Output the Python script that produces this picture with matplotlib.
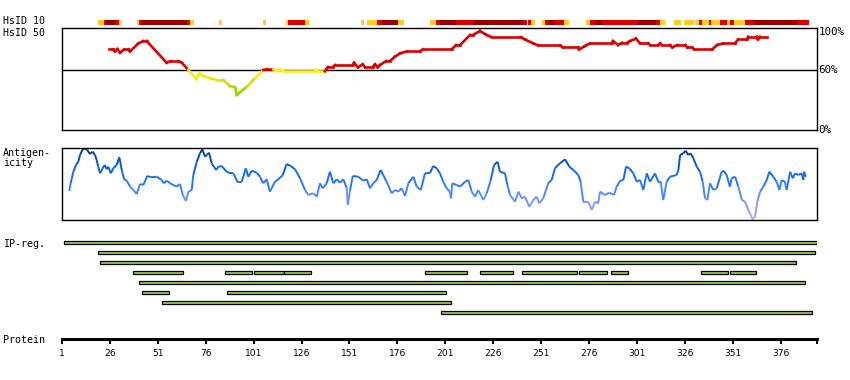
import numpy as np
import matplotlib
matplotlib.use('Agg')
import matplotlib.pyplot as plt
from matplotlib.collections import LineCollection
from matplotlib.colors import LinearSegmentedColormap, Normalize
from matplotlib.patches import Rectangle
import matplotlib.transforms as mtransforms

# ---------------- data ----------------
protein_ticks = [1, 26, 51, 76, 101, 126, 151, 176, 201, 226, 251, 276, 301, 326, 351, 376]
protein_length = 395

# HsID 10 strip: start, end, level (0 = yellow, 1 = red, 2 = dark red)
hsid10_start = [20, 23, 24, 29, 31, 40, 41, 43, 66, 68, 83, 106, 118, 119, 128, 157, 160, 165.5, 168, 176.5,
                193, 196, 198, 206.5, 216, 241.5, 244, 245.5, 251.5, 253, 255, 257.5, 263, 274.5, 276.5, 279,
                283, 301.5, 311, 313, 320.5, 325.5, 331.5, 333.5, 335, 338.5, 339.5, 344.5, 348, 349.5, 351.5,
                357.5, 361.5, 385]
hsid10_end = [23, 24, 29, 31, 32, 41, 43, 66, 68, 70, 84.5, 107.5, 119, 128, 130, 158.5, 165.5, 168, 176.5, 179.5,
              196, 198, 206.5, 216, 241.5, 243.5, 245.5, 248, 253, 255, 257.5, 263, 265.5, 276.5, 279, 283,
              301.5, 311, 313, 315.5, 324, 331, 333.5, 335, 338.5, 339.5, 344.5, 348, 349.5, 351.5, 357.5,
              361.5, 385, 391]
hsid10_level = [0, 1, 2, 1, 0, 0, 1, 2, 1, 0, 0, 0, 0, 1, 0, 0, 0, 1, 2, 0,
                0, 1, 2, 1, 2, 1, 1, 0, 0, 1, 2, 1, 0, 0, 1, 2,
                1, 2, 1, 0, 0, 0, 0, 1, 0, 1, 0, 1, 0, 1, 0,
                1, 2, 1]

# HsID 50 identity (%)
hsid50_res = [25.7, 27.8, 28.7, 29.9, 31.3, 33.4, 35.6, 36.5, 40.8, 43.4, 45.2, 55.6, 57.7, 61.7, 63.5, 66.9,
              71.3, 72.6, 74.7, 78.2, 81.7, 85.2, 88.7, 91.3, 92.2, 97.4, 101.7, 104.3, 106.0, 107.8, 111.3,
              113.0, 115.3, 116.5, 133.0, 133.5, 134.6, 138.2, 139.1, 139.8, 142.4, 143.4, 152.8, 153.4, 155.4,
              157.9, 159.1, 163.1, 164.3, 165.7, 166.9, 170.1, 172.1, 174.7, 177.4, 180.9, 187.8, 189.2, 204.3,
              206.6, 208.7, 213.9, 215.4, 219.1, 222.6, 225.2, 240.3, 242.6, 246.9, 249.4, 260.8, 262.4, 270.2,
              270.8, 273.9, 276.5, 288.0, 288.5, 291.1, 293.2, 295.8, 297.4, 300.5, 302.6, 306.8, 307.9, 312.1,
              313.1, 314.1, 318.3, 319.4, 322.0, 326.2, 327.2, 329.7, 330.8, 340.2, 342.8, 345.9, 352.2, 353.7,
              358.4, 359.0, 363.6, 364.1, 365.2, 368.9]
hsid50_val = [81, 81, 79, 81.3, 77.7, 81, 81, 79, 87, 89.4, 89.4, 67.6, 69.3, 69.3, 67.6, 60.3,
              51, 57, 54.3, 52, 50.3, 50.3, 44.2, 42.9, 35.2, 43.5, 52, 57, 60.3, 61, 61,
              59, 61, 59, 59, 61, 59, 59, 61.6, 63.3, 63.3, 65.3, 65.3, 67.6, 63,
              66, 63, 63, 66, 63, 65.3, 69.3, 69.3, 73.7, 77, 79, 79, 81, 81,
              85.4, 85.4, 95.5, 95.5, 99.5, 95.5, 93.2, 93.2, 91, 87, 85, 85, 83, 83,
              81, 84.4, 87, 87, 89.4, 85.4, 87.7, 87.7, 89.4, 91.8, 87, 87, 85.4, 85.4,
              87, 85.4, 85.4, 83, 85.4, 85.4, 83, 83, 81, 81, 85.4, 87, 87, 91,
              91, 93.8, 93.8, 91, 93.8, 93.8]

# Antigenicity profile (relative score)
ag_res = [4.8, 5.5, 6.9, 8.3, 9.5, 10.4, 11.8, 13.0, 14.2, 15.6, 17.0, 18.2, 19.1, 19.9, 20.8, 22.2, 23.4, 24.3,
          25.2, 26.4, 27.8, 29.5, 30.9, 32.2, 33.4, 34.8, 36.5, 38.2, 40.0, 41.7, 43.4, 45.5, 47.8, 50.4, 53.0,
          54.2, 55.6, 57.4, 60.8, 62.6, 64.0, 65.7, 66.9, 68.7, 69.5, 71.3, 73.0, 74.2, 75.6, 76.5, 77.7, 79.1,
          81.4, 82.6, 84.3, 86.9, 88.7, 90.4, 92.5, 94.8, 96.9, 98.2, 100.0, 102.6, 104.3, 106.0, 107.8, 109.5,
          112.1, 113.9, 116.2, 118.2, 120.3, 122.6, 125.2, 127.8, 129.5, 132.1, 133.9, 135.6, 137.0, 139.1,
          140.8, 142.6, 144.3, 146.1, 147.8, 149.6, 150.1, 151.3, 152.7, 155.6, 158.2, 160.0, 161.7, 163.4,
          165.2, 167.3, 168.6, 170.4, 173.0, 174.8, 176.5, 178.2, 180.0, 181.7, 184.3, 186.1, 188.2, 190.4,
          193.0, 194.7, 196.5, 198.2, 199.9, 201.7, 203.4, 204.0, 204.6, 206.9, 208.7, 211.3, 213.0, 214.8,
          216.5, 218.2, 220.8, 222.6, 224.7, 226.4, 228.3, 229.5, 232.1, 233.4, 234.8, 237.4, 239.1, 240.9,
          242.6, 244.8, 246.9, 248.7, 250.0, 252.1, 254.7, 256.5, 258.2, 260.8, 263.5, 265.7, 267.8, 270.4,
          271.6, 273.0, 275.6, 277.4, 279.1, 280.8, 281.7, 284.3, 286.6, 289.0, 290.4, 292.2, 293.9, 295.3,
          297.0, 299.1, 300.9, 302.6, 304.3, 306.1, 307.8, 310.4, 312.1, 313.4, 314.7, 316.5, 318.2, 321.7,
          322.6, 323.5, 325.2, 326.4, 327.8, 329.0, 330.4, 332.2, 333.9, 335.3, 336.5, 337.7, 339.1, 340.8,
          342.6, 345.2, 346.4, 347.8, 349.5, 350.4, 352.2, 353.9, 355.7, 357.4, 359.1, 361.4, 362.6, 363.8,
          365.2, 366.9, 368.7, 370.1, 372.1, 373.9, 375.3, 376.5, 378.2, 379.1, 380.9, 382.3, 383.5, 385.2,
          386.9, 387.8, 388.2, 389.1]
ag_val = [29, 36.7, 48.3, 55, 58.3, 65, 70.7, 71.7, 70, 66, 68.3, 65, 60, 53.3, 46.7, 51.7, 55, 50.7,
          53.3, 46.7, 51.7, 55, 62.7, 50, 40.7, 39.3, 33.3, 30, 26, 36, 35, 44, 42.7, 43.3, 40,
          36.7, 39.3, 36.7, 33.3, 36, 25, 19, 28.3, 30, 45, 58.3, 66.7, 70.7, 63.3, 65, 67.3, 56.7,
          50, 53.3, 54, 48.3, 46.7, 46.7, 38.3, 38.3, 51.7, 43.3, 49.3, 47.3, 43.3, 36.7, 40.7, 28.3,
          38.3, 40.7, 45, 56, 54, 50.7, 41.7, 30, 25, 26.7, 23.3, 36.7, 31.7, 36.7,
          48.3, 36.7, 40.7, 37.3, 40.7, 31.7, 15, 30, 44, 43.3, 39.3, 40.7, 31.7, 36.7,
          40, 50, 45, 38.3, 26.7, 30, 28.3, 31.7, 24, 36.7, 43.3, 33.3, 30, 46.7,
          47, 54, 51.7, 46.7, 38.3, 31.7, 28.3, 21.7, 36.7, 35, 33.3, 38.3, 40, 28.3,
          23.3, 30, 20, 26.7, 40, 55, 58.3, 48.3, 46.7, 35, 25, 18.3, 28.3, 21.7,
          23.3, 13.3, 20, 23.3, 16.7, 21.7, 36.7, 40, 51.7, 56.7, 60.7, 53.3, 50, 45,
          38.3, 18.3, 18.3, 10, 18.3, 16.7, 28.3, 25, 27.3, 25, 33.3, 39.3, 40, 53.3,
          51.7, 46.7, 38.3, 40, 30, 46.7, 38.3, 46.7, 38.3, 38.3, 20, 38.3, 43.3, 45,
          50, 65, 66.7, 69.3, 65, 66.7, 61.7, 53.3, 48.3, 38.3, 21.7, 20, 36.7, 30,
          31.7, 48.3, 49, 45, 33.3, 41.7, 43.3, 33.3, 20, 18.3, 10, 0.7, 3.3, 18.3,
          28.3, 33.3, 40, 48.3, 43.3, 38.3, 30, 40, 38.3, 30, 48.3, 41.7, 46.7, 45,
          46.7, 40, 48.3, 43.3]

# IP regions: row, start, end
ip_row = [0, 1, 2, 3, 3, 3, 3, 3, 3, 3, 3, 3, 3, 3, 4, 5, 5, 6, 7]
ip_start = [2, 20, 21, 38, 86, 101, 117, 190.5, 219, 241, 270.5, 287.5, 334.5, 349.5, 41, 42.5, 87, 53, 198.5]
ip_end = [395, 394, 384, 64, 100, 117, 131, 212.5, 236.5, 269.5, 285.5, 296.5, 348.5, 363, 388.5, 57, 201.5, 204, 392.5]

# ---------------- layout ----------------
W, H = 850, 380
fig = plt.figure(figsize=(W / 100, H / 100), dpi=100)
XLIM = (0.74, 394.94)
mono = 'DejaVu Sans Mono'


def ax_px(x0, y0, x1, y1):
    return fig.add_axes([x0 / W, 1 - y1 / H, (x1 - x0) / W, (y1 - y0) / H])


def label(x, y, s, **kw):
    fig.text(x / W, 1 - y / H, s, va='center', ha='left', family=mono, fontsize=7.2, **kw)


# HsID 10 strip
lvl_colors = ['#ffcc22', '#dd0000', '#990000']
ax10 = ax_px(61.5, 20, 817, 25)
ax10.set_xlim(*XLIM)
ax10.set_ylim(0, 1)
ax10.axis('off')
for s, e, l in zip(hsid10_start, hsid10_end, hsid10_level):
    ax10.broken_barh([(s, e - s)], (0, 1), facecolors=lvl_colors[l], edgecolors='none')

# HsID 50 panel
ax50 = ax_px(61.5, 28, 817, 130)
ax50.set_xlim(*XLIM)
ax50.set_ylim(0, 102.5)
ax50.set_xticks([])
ax50.set_yticks([])
for sp in ax50.spines.values():
    sp.set_linewidth(1.0)
ax50.axhline(60, color='black', lw=1.0)
yel_cmap = LinearSegmentedColormap.from_list('idy', [(0, '#88cc00'), (0.4, '#bbdd00'),
                                                     (0.7, '#eeee11'), (1, '#ffee22')])
r50 = np.array(hsid50_res)
v50 = np.array(hsid50_val)
segs = np.stack([np.column_stack([r50[:-1], v50[:-1]]), np.column_stack([r50[1:], v50[1:]])], axis=1)
mid = (v50[:-1] + v50[1:]) / 2
cols = ['#dd0000' if m > 60 else yel_cmap(np.clip((m - 35) / 25, 0, 1)) for m in mid]
ax50.add_collection(LineCollection(segs, colors=cols, linewidths=1.9, capstyle='projecting'))
trans = mtransforms.blended_transform_factory(ax50.transAxes, ax50.transData)
for v, s in [(98.5, '100%'), (60, '60%'), (0, '0%')]:
    ax50.text(1.002, v, s, transform=trans, va='center', ha='left', family=mono, fontsize=7.8)

# Antigenicity panel
axag = ax_px(61.5, 148, 817, 220)
axag.set_xlim(*XLIM)
axag.set_ylim(0, 72)
axag.set_xticks([])
axag.set_yticks([])
for sp in axag.spines.values():
    sp.set_linewidth(1.0)
ag_cmap = LinearSegmentedColormap.from_list('ag', [(0, '#b8a8ff'), (0.2, '#8899ff'), (0.35, '#5b8fff'),
                                                   (0.5, '#2a7af5'), (0.7, '#0a66e8'), (0.85, '#0050b8'),
                                                   (1, '#003a80')])
ra = np.array(ag_res)
va = np.array(ag_val)
segs = np.stack([np.column_stack([ra[:-1], va[:-1]]), np.column_stack([ra[1:], va[1:]])], axis=1)
mid = (va[:-1] + va[1:]) / 2
axag.add_collection(LineCollection(segs, colors=ag_cmap(Normalize(0, 72)(mid)), linewidths=1.4))

# IP regions
axip = ax_px(61.5, 232.3, 817, 322.3)
axip.set_xlim(*XLIM)
axip.set_ylim(9, 0)
axip.axis('off')
for row, s, e in zip(ip_row, ip_start, ip_end):
    axip.add_patch(Rectangle((s, row + 1 - 0.16), e - s, 0.32, facecolor='#9dcb5a',
                             edgecolor='black', linewidth=0.9))

# Protein axis
axp = ax_px(61.5, 337, 817, 339)
axp.set_xlim(*XLIM)
axp.set_ylim(0, 1)
axp.set_yticks([])
for k in ['top', 'left', 'right']:
    axp.spines[k].set_visible(False)
axp.spines['bottom'].set_linewidth(2.2)
axp.set_xticks(protein_ticks + [protein_length])
axp.set_xticklabels([str(t) for t in protein_ticks] + [''])
axp.tick_params(axis='x', direction='out', length=3.5, width=1.4, pad=4, labelsize=6.6)
axp.patch.set_visible(False)

# left-hand labels
label(3, 21.5, 'HsID 10')
label(3, 33, 'HsID 50')
label(3, 153, 'Antigen-')
label(3, 163, 'icity')
label(3, 243.5, 'IP-reg.')
label(3, 340, 'Protein')

fig.savefig('out.png', dpi=100)
